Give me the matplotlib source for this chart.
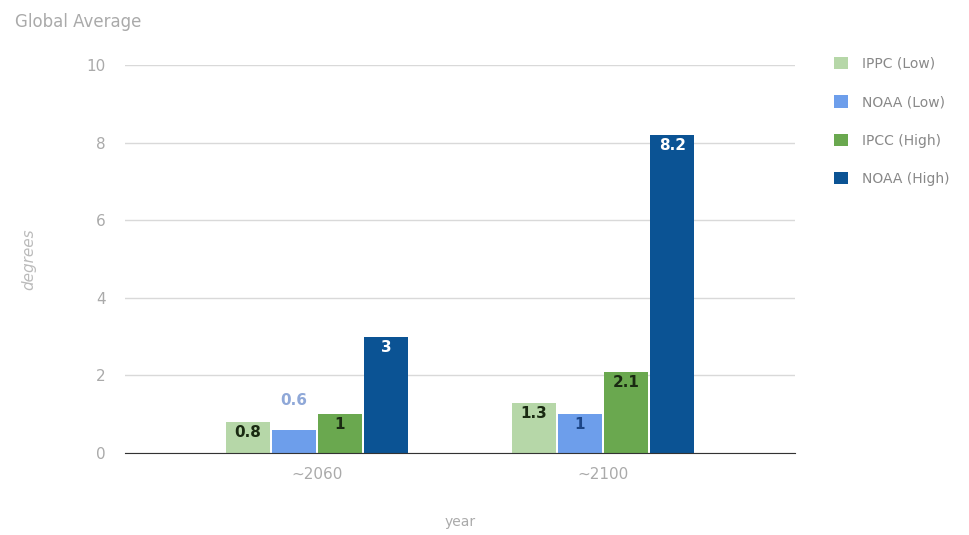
import matplotlib.pyplot as plt
import numpy as np

years = ['~2060', '~2100']
series = ['IPPC (Low)', 'NOAA (Low)', 'IPCC (High)', 'NOAA (High)']
values = [
    [0.8, 1.3],
    [0.6, 1.0],
    [1.0, 2.1],
    [3.0, 8.2],
]
colors = ['#b6d7a8', '#6d9eeb', '#6aa84f', '#0b5394']
label_colors = ['#1a2a12', '#1c4587', '#1a2a12', 'white']

fig = plt.figure(figsize=(9.69, 5.35), dpi=100)
ax = fig.add_axes([125 / 969, 1 - 453 / 535, 670 / 969, 388 / 535])

x = np.arange(len(years))
w = 0.154
gap = 0.007
offsets = (np.arange(len(series)) - 1.5) * (w + gap)

for ii in range(len(series)):
    bars = ax.bar(x + offsets[ii], values[ii], width=w, color=colors[ii], label=series[ii], zorder=3)
    for jj, b in enumerate(bars):
        v = values[ii][jj]
        txt = ('%g' % v)
        if v < 0.7:
            # too short, label goes above the bar
            ax.text(b.get_x() + w / 2, v + 0.55, txt, ha='center', va='bottom',
                    color='#8fa8d8', fontsize=11, fontweight='bold', zorder=4)
        else:
            ax.text(b.get_x() + w / 2, v - 0.08, txt, ha='center', va='top',
                    color=label_colors[ii], fontsize=11, fontweight='bold', zorder=4)

ax.set_xlim(-0.671, 1.671)
ax.set_ylim(0, 10)
ax.set_yticks([0, 2, 4, 6, 8, 10])
ax.set_xticks(x)
ax.set_xticklabels(years)
ax.grid(axis='y', color='#d9d9d9', linewidth=1, zorder=0)
for s in ['top', 'right', 'left']:
    ax.spines[s].set_visible(False)
ax.spines['bottom'].set_color('#333333')
ax.spines['bottom'].set_zorder(5)
ax.tick_params(axis='both', length=0, colors='#aaaaaa', labelsize=11)
ax.tick_params(axis='y', pad=14)
ax.tick_params(axis='x', pad=10)

ax.set_ylabel('degrees', color='#bbbbbb', fontsize=11, style='italic', labelpad=36)
ax.set_xlabel('year', color='#aaaaaa', fontsize=10, labelpad=24)
fig.text(15 / 969, 1 - 22 / 535, 'Global Average', color='#aaaaaa', fontsize=12, va='center')

leg = ax.legend(loc='upper left', bbox_to_anchor=(1.04, 1.053), frameon=False,
                fontsize=10, labelspacing=1.75, handlelength=1.0, handleheight=1.0,
                handletextpad=1.0)
for t in leg.get_texts():
    t.set_color('#888888')

fig.savefig('out.png', dpi=100)
